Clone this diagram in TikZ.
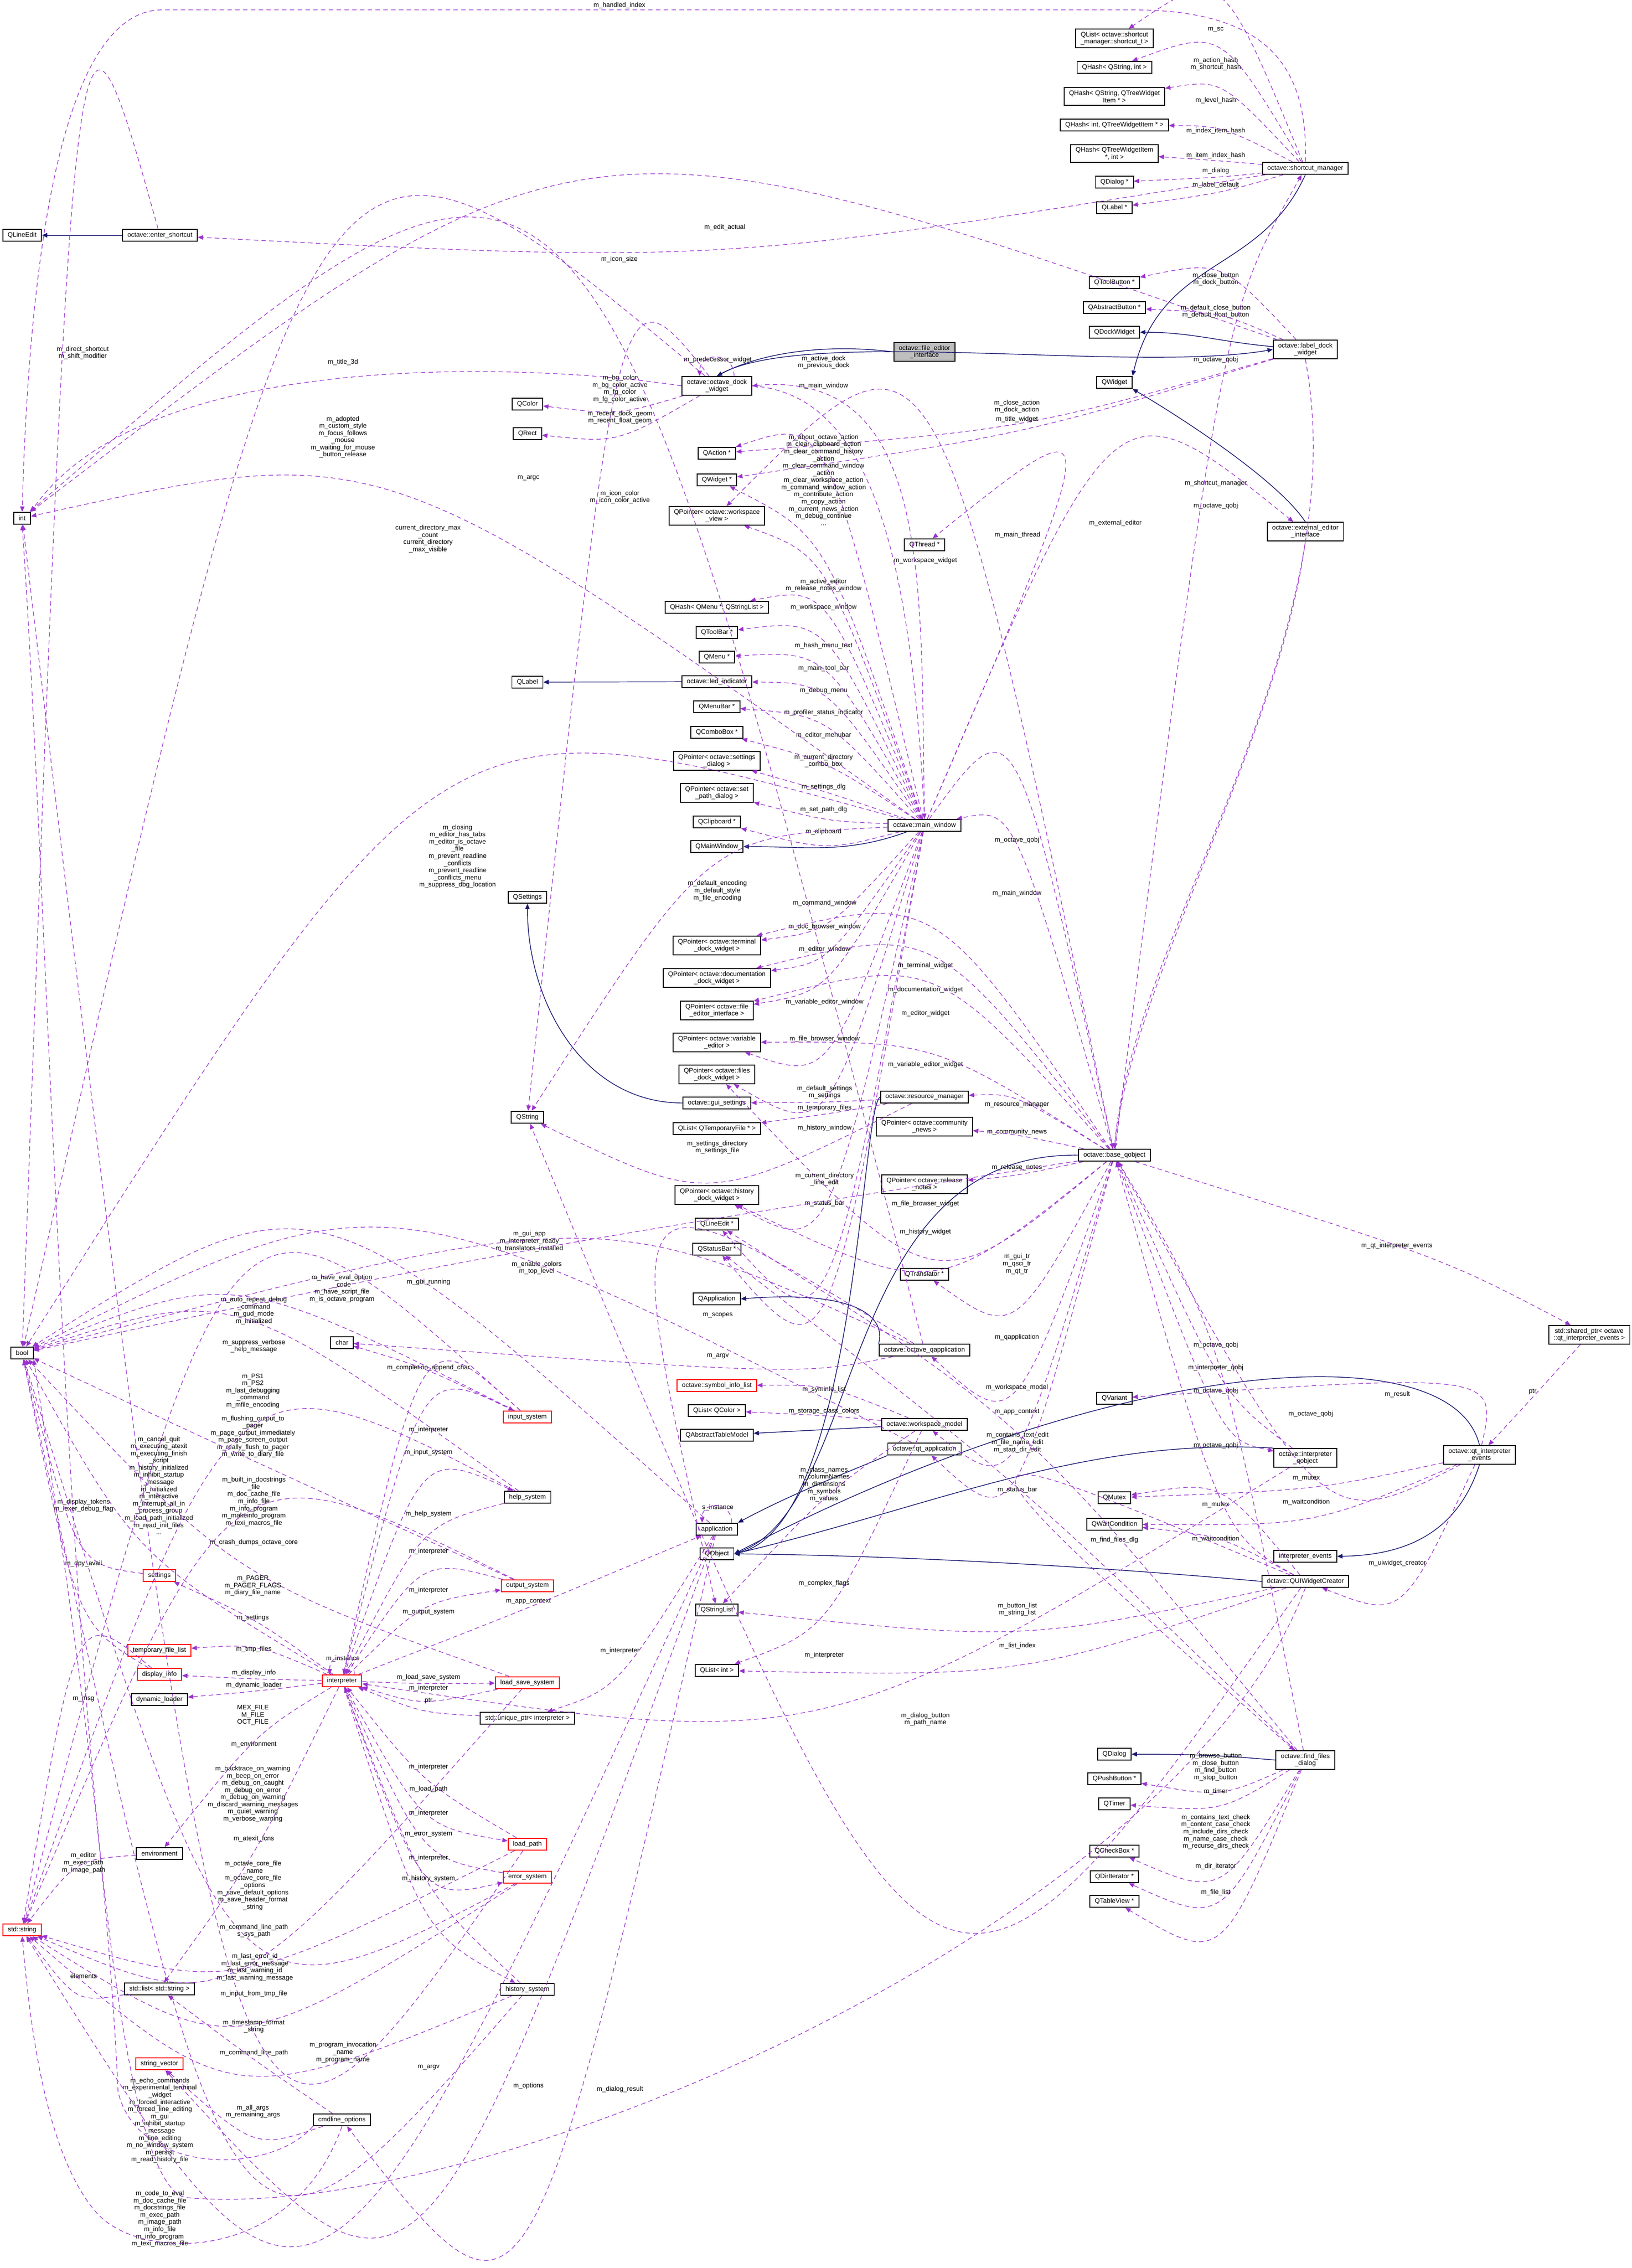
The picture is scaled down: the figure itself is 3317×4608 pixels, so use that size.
\documentclass[tikz,border=0pt]{standalone}
\usepackage{fontspec}
\setmainfont{Liberation Sans}
\usetikzlibrary{arrows.meta,calc}
\definecolor{dcol}{HTML}{9A32CD}
\definecolor{icol}{HTML}{191970}
\newcommand\fsz{\fontsize{3.2pt}{3.5pt}\selectfont}
\newcounter{lc}
\newcommand\dl[5][]{\stepcounter{lc}%
 \node[lbl] (L\thelc) at (#4) {#5};%
 \path ($(L\thelc.south)+(0,4)$) coordinate (V\thelc);%
 \draw[dep,#1] (#2) .. controls ($(#2)!0.5!(#3)!2!(V\thelc)$) .. (#3);}
\tikzset{
 cls/.style={draw=black,line width=0.45pt,fill=white,inner xsep=2.4pt,inner ysep=1.3pt,minimum height=5.9pt,align=center,font=\fsz},
 redc/.style={cls,draw=red},
 lbl/.style={inner sep=0pt,align=center,font=\fsz},
 dep/.style={draw=dcol,line width=0.3pt,dash pattern=on 2.2pt off 1.6pt,-{Triangle[length=2.6pt,width=2.2pt]}},
 inh/.style={draw=icol,line width=0.35pt,-{Triangle[length=2.6pt,width=2.2pt]}},
}
\begin{document}
\begin{tikzpicture}[x=0.24pt,y=-0.24pt]
\useasboundingbox (0,0) rectangle (3317,4608);
% ---------- nodes ----------
\node[cls] (QLineEdit) at (45,478) {QLineEdit};
\node[cls] (enter) at (325,478) {octave::enter\_shortcut};
\node[cls] (int) at (45,1053) {int};
\node[cls] (bool) at (45,2749) {bool};
\node[redc] (stdstring) at (45,3921) {std::string};
\node[redc] (settings) at (324,3201) {settings};
\node[redc] (tmpfl) at (324,3353) {temporary\_file\_list};
\node[redc] (dispinfo) at (324,3402) {display\_info};
\node[cls] (dynload) at (324,3453) {dynamic\_loader};
\node[cls] (environment) at (324,3766) {environment};
\node[cls] (stdlist) at (324,4041) {std::list< std::string >};
\node[redc] (strvec) at (324,4193) {string\_vector};
\node[cls] (cmdline) at (695,4307) {cmdline\_options};
\node[redc] (interp) at (695,3415) {interpreter};
\node[cls] (charn) at (695,2728) {char};
\node[redc] (inputsys) at (1072,2879) {input\_system};
\node[cls] (helpsys) at (1072,3042) {help\_system};
\node[redc] (outputsys) at (1072,3222) {output\_system};
\node[redc] (lss) at (1072,3419) {load\_save\_system};
\node[cls] (uniq) at (1072,3491) {std::unique\_ptr< interpreter >};
\node[redc] (loadpath) at (1072,3747) {load\_path};
\node[redc] (errsys) at (1072,3814) {error\_system};
\node[cls] (histsys) at (1072,4042) {history\_system};
\node[cls] (QColor) at (1072,821) {QColor};
\node[cls] (QRect) at (1072,881) {QRect};
\node[cls] (QLabel) at (1072,1386) {QLabel};
\node[cls] (QSettings) at (1072,1823) {QSettings};
\node[cls] (QString) at (1072,2270) {QString};
% column 1457
\node[cls] (odw) at (1457,784) {octave::octave\_dock\\\_widget};
\node[cls] (QActionp) at (1457,921) {QAction *};
\node[cls] (QWidgetp) at (1457,975) {QWidget *};
\node[cls] (wsview) at (1457,1048) {QPointer< octave::workspace\\\_view >};
\node[cls] (qhmenu) at (1457,1234) {QHash< QMenu *, QStringList >};
\node[cls] (QToolBarp) at (1457,1285) {QToolBar *};
\node[cls] (QMenup) at (1457,1335) {QMenu *};
\node[cls] (led) at (1457,1385) {octave::led\_indicator};
\node[cls] (QMenuBarp) at (1457,1436) {QMenuBar *};
\node[cls] (QComboBoxp) at (1457,1488) {QComboBox *};
\node[cls] (setdlg) at (1457,1546) {QPointer< octave::settings\\\_dialog >};
\node[cls] (setpath) at (1457,1611) {QPointer< octave::set\\\_path\_dialog >};
\node[cls] (QClipboardp) at (1457,1670) {QClipboard *};
\node[cls] (QMainWindow) at (1457,1720) {QMainWindow};
\node[cls] (term) at (1457,1921) {QPointer< octave::terminal\\\_dock\_widget >};
\node[cls] (docw) at (1457,1987) {QPointer< octave::documentation\\\_dock\_widget >};
\node[cls] (fei) at (1457,2053) {QPointer< octave::file\\\_editor\_interface >};
\node[cls] (vared) at (1457,2118) {QPointer< octave::variable\\\_editor >};
\node[cls] (filesdock) at (1457,2183) {QPointer< octave::files\\\_dock\_widget >};
\node[cls] (guiset) at (1457,2241) {octave::gui\_settings};
\node[cls] (qltmp) at (1457,2293) {QList< QTemporaryFile * >};
\node[cls] (histdock) at (1457,2428) {QPointer< octave::history\\\_dock\_widget >};
\node[cls] (QLineEditp) at (1457,2487) {QLineEdit *};
\node[cls] (QStatusBarp) at (1457,2538) {QStatusBar *};
\node[cls] (QApplication) at (1457,2639) {QApplication};
\node[redc] (syminfo) at (1457,2815) {octave::symbol\_info\_list};
\node[cls] (qlcolor) at (1457,2866) {QList< QColor >};
\node[cls] (QATM) at (1457,2916) {QAbstractTableModel};
\node[cls] (application) at (1457,3107) {application};
\node[cls] (QObject) at (1457,3157) {QObject};
\node[cls] (QStringList) at (1457,3271) {QStringList};
\node[cls] (QListInt) at (1457,3394) {QList< int >};
% column 1879
\node[cls,fill=black!25] (fed) at (1879,715) {octave::file\_editor\\\_interface};
\node[cls] (QThreadp) at (1879,1107) {QThread *};
\node[cls] (mw) at (1879,1677) {octave::main\_window};
\node[cls] (rm) at (1879,2229) {octave::resource\_manager};
\node[cls] (commnews) at (1879,2289) {QPointer< octave::community\\\_news >};
\node[cls] (relnotes) at (1879,2406) {QPointer< octave::release\\\_notes >};
\node[cls] (QTranslatorp) at (1879,2589) {QTranslator *};
\node[cls] (oqapp) at (1879,2743) {octave::octave\_qapplication};
\node[cls] (wsm) at (1879,2894) {octave::workspace\_model};
\node[cls] (qtapp) at (1879,2944) {octave::qt\_application};
% column 2265
\node[cls] (qlsc) at (2265,78) {QList< octave::shortcut\\\_manager::shortcut\_t >};
\node[cls] (qhsi) at (2265,137) {QHash< QString, int >};
\node[cls] (qhst) at (2265,196) {QHash< QString, QTreeWidget\\Item * >};
\node[cls] (qhit) at (2265,254) {QHash< int, QTreeWidgetItem * >};
\node[cls] (qhti) at (2265,312) {QHash< QTreeWidgetItem\\*, int >};
\node[cls] (QDialogp) at (2265,370) {QDialog *};
\node[cls] (QLabelp) at (2265,422) {QLabel *};
\node[cls] (QToolButtonp) at (2265,574) {QToolButton *};
\node[cls] (QAbstractButtonp) at (2265,625) {QAbstractButton *};
\node[cls] (QDockWidget) at (2265,675) {QDockWidget};
\node[cls] (QWidget) at (2265,777) {QWidget};
\node[cls] (bq) at (2265,2347) {octave::base\_qobject};
\node[cls] (QVariant) at (2265,2841) {QVariant};
\node[cls] (QMutex) at (2265,3043) {QMutex};
\node[cls] (QWaitCondition) at (2265,3097) {QWaitCondition};
\node[cls] (QDialog) at (2265,3564) {QDialog};
\node[cls] (QPushButtonp) at (2265,3614) {QPushButton *};
\node[cls] (QTimer) at (2265,3665) {QTimer};
\node[cls] (QCheckBoxp) at (2265,3761) {QCheckBox *};
\node[cls] (QDirIteratorp) at (2265,3813) {QDirIterator *};
\node[cls] (QTableViewp) at (2265,3863) {QTableView *};
% column 2653
\node[cls] (sm) at (2653,342) {octave::shortcut\_manager};
\node[cls] (ldw) at (2653,710) {octave::label\_dock\\\_widget};
\node[cls] (eei) at (2653,1080) {octave::external\_editor\\\_interface};
\node[cls] (iqobj) at (2653,2962) {octave::interpreter\\\_qobject};
\node[cls] (ievents) at (2653,3162) {interpreter\_events};
\node[cls] (quiwc) at (2653,3213) {octave::QUIWidgetCreator};
\node[cls] (ffd) at (2653,3576) {octave::find\_files\\\_dialog};
\node[cls] (qtie) at (3007,2956) {octave::qt\_interpreter\\\_events};
\node[cls] (shptr) at (3230,2712) {std::shared\_ptr< octave\\::qt\_interpreter\_events >};
% ---------- inheritance ----------
\draw[inh] (enter) -- (QLineEdit);
\draw[inh] (mw) to[out=200,in=0] (QMainWindow);
\draw[inh] (led) -- (QLabel);
\draw[inh] (guiset.west) to[out=180,in=-90] (QSettings.south);
\draw[inh] (sm.south) .. controls (2560,560) and (2360,520) .. (QWidget.north east);
\draw[inh] (eei.north) .. controls (2600,980) and (2420,860) .. (QWidget.south east);
\draw[inh] (ldw) to[out=175,in=0] (QDockWidget);
\draw[inh] (odw.north) .. controls (1620,660) and (2300,760) .. (ldw.west);
\draw[inh] (fed.west) .. controls (1700,700) and (1560,710) .. (odw.north);
\draw[inh] (oqapp.north west) .. controls (1800,2680) and (1750,2620) .. (QApplication.east);
\draw[inh] (wsm) -- (QATM);
\draw[inh] (qtapp.south west) .. controls (1700,3000) and (1600,3040) .. (application.north east);
\draw[inh] (bq.west) .. controls (1700,2340) and (1760,3060) .. (QObject.east);
\draw[inh] (rm.west) .. controls (1750,2250) and (1740,3100) .. (QObject.east);
\draw[inh] (iqobj.north west) .. controls (2200,2920) and (1900,3060) .. (QObject.east);
\draw[inh] (qtie.north) .. controls (2950,2700) and (2250,2760) .. (QObject.east);
\draw[inh] (quiwc.west) .. controls (2200,3180) and (1800,3160) .. (QObject.east);
\draw[inh] (qtie.south) .. controls (2960,3120) and (2850,3160) .. (ievents.east);
\draw[inh] (ffd.west) to[out=175,in=0] (QDialog.east);
% ---------- shortcut manager cluster ----------
\dl{sm}{qlsc}{2471,60}{m\_sc}
\dl{sm}{qhsi}{2471,130}{m\_action\_hash\\m\_shortcut\_hash}
\dl{sm}{qhst}{2471,204}{m\_level\_hash}
\dl{sm}{qhit}{2471,266}{m\_index\_item\_hash}
\dl{sm}{qhti}{2471,316}{m\_item\_index\_hash}
\dl{sm}{QDialogp}{2471,347}{m\_dialog}
\dl{sm}{QLabelp}{2471,376}{m\_label\_default}
\node[lbl] (Lhi) at (1259,11) {m\_handled\_index};
\draw[dep] (sm.north) .. controls (2660,120) and (2560,20) .. (2300,20) -- (330,20) .. controls (130,20) and (60,500) .. (int.north);
\dl{sm}{enter}{1473,462}{m\_edit\_actual}
\dl{ldw}{int}{1259,527}{m\_icon\_size}
\dl{ldw}{QToolButtonp}{2471,567}{m\_close\_button\\m\_dock\_button}
\dl{ldw}{QAbstractButtonp}{2471,633}{m\_default\_close\_button\\m\_default\_float\_button}
\node[lbl] (Lldq) at (2471,731) {m\_octave\_qobj};
\draw[dep] (ldw.south) .. controls (2760,1300) and (2300,1900) .. (bq.north);
\dl{bq}{sm}{2471,982}{m\_shortcut\_manager}
\node[lbl] (Leeq) at (2471,1028) {m\_octave\_qobj};
\draw[dep] (eei.south) .. controls (2600,1500) and (2300,2000) .. (bq.north);
\dl{ldw}{QActionp}{2067,826}{m\_close\_action\\m\_dock\_action}
\dl{ldw}{QWidgetp}{2067,852}{m\_title\_widget}
\dl{mw}{eei}{2267,1063}{m\_external\_editor}
\dl{mw}{QThreadp}{2068,1087}{m\_main\_thread}
\dl{mw}{int}{870,1095}{current\_directory\_max\\\_count\\current\_directory\\\_max\_visible}
\dl{bq}{wsview}{1881,1139}{m\_workspace\_widget}
% ---------- dock widget ----------
\node[lbl] (Lpred) at (1459,731) {m\_predecessor\_widget};
\draw[dep] ($(odw.north)+(35,0)$) .. controls +(0,-50) and +(0,-50) .. ($(odw.north)+(-35,0)$);
\node[lbl] (Lact) at (1674,736) {m\_active\_dock\\m\_previous\_dock};
\draw[dep] (mw.north) .. controls (1870,1200) and (1900,750) .. (odw.east);
\node[lbl] (Lmwo) at (1674,784) {m\_main\_window};
\draw[dep] (odw.east) .. controls (1760,800) and (1850,1100) .. (mw.north);
\node[lbl] (Lt3d) at (697,736) {m\_title\_3d};
\draw[dep] (odw.west) .. controls (1100,740) and (300,700) .. (int.north east);
\dl{odw}{QColor}{1260,790}{m\_bg\_color\\m\_bg\_color\_active\\m\_fg\_color\\m\_fg\_color\_active}
\dl{odw}{QRect}{1260,848}{m\_recent\_dock\_geom\\m\_recent\_float\_geom}
\dl{odw}{bool}{697,888}{m\_adopted\\m\_custom\_style\\m\_focus\_follows\\\_mouse\\m\_waiting\_for\_mouse\\\_button\_release}
\dl{odw}{QString}{1260,1010}{m\_icon\_color\\m\_icon\_color\_active}
\dl{oqapp}{int}{1074,971}{m\_argc}
% ---------- main window ----------
\dl{mw}{QActionp}{1674,975}{m\_about\_octave\_action\\m\_clear\_clipboard\_action\\m\_clear\_command\_history\\\_action\\m\_clear\_command\_window\\\_action\\m\_clear\_workspace\_action\\m\_command\_window\_action\\m\_contribute\_action\\m\_copy\_action\\m\_current\_news\_action\\m\_debug\_continue\\...}
\dl{mw}{QWidgetp}{1674,1189}{m\_active\_editor\\m\_release\_notes\_window}
\dl{mw}{wsview}{1674,1234}{m\_workspace\_window}
\dl{mw}{qhmenu}{1674,1312}{m\_hash\_menu\_text}
\dl{mw}{QToolBarp}{1674,1358}{m\_main\_tool\_bar}
\dl{mw}{QMenup}{1674,1403}{m\_debug\_menu}
\dl{mw}{led}{1674,1448}{m\_profiler\_status\_indicator}
\dl{mw}{QMenuBarp}{1674,1494}{m\_editor\_menubar}
\dl{mw}{QComboBoxp}{1674,1546}{m\_current\_directory\\\_combo\_box}
\dl{mw}{setdlg}{1674,1599}{m\_settings\_dlg}
\dl{mw}{setpath}{1674,1645}{m\_set\_path\_dlg}
\dl{mw}{QClipboardp}{1674,1690}{m\_clipboard}
\dl{mw}{bool}{930,1740}{m\_closing\\m\_editor\_has\_tabs\\m\_editor\_is\_octave\\\_file\\m\_prevent\_readline\\\_conflicts\\m\_prevent\_readline\\\_conflicts\_menu\\m\_suppress\_dbg\_location}
\dl{mw}{QString}{1458,1810}{m\_default\_encoding\\m\_default\_style\\m\_file\_encoding}
\dl{mw}{term}{1676,1835}{m\_command\_window}
\dl{mw}{docw}{1676,1883}{m\_doc\_browser\_window}
\dl{mw}{fei}{1676,1929}{m\_editor\_window}
\dl{mw}{vared}{1676,2036}{m\_variable\_editor\_window}
\dl{mw}{filesdock}{1676,2111}{m\_file\_browser\_window}
\dl{mw}{histdock}{1676,2292}{m\_history\_window}
\dl{mw}{QLineEditp}{1676,2396}{m\_current\_directory\\\_line\_edit}
\dl{mw}{QStatusBarp}{1676,2445}{m\_status\_bar}
\dl{mw}{bq}{2067,1707}{m\_octave\_qobj}
\dl{bq}{mw}{2067,1815}{m\_main\_window}
% ---------- resource manager / base_qobject ----------
\dl{rm}{guiset}{1676,2219}{m\_default\_settings\\m\_settings}
\dl{rm}{qltmp}{1676,2251}{m\_temporary\_files}
\dl{rm}{QString}{1458,2331}{m\_settings\_directory\\m\_settings\_file}
\dl{bq}{rm}{2067,2245}{m\_resource\_manager}
\dl{bq}{commnews}{2067,2300}{m\_community\_news}
\dl{bq}{relnotes}{2067,2372}{m\_release\_notes}
\dl{bq}{term}{1881,1962}{m\_terminal\_widget}
\dl{bq}{docw}{1881,2011}{m\_documentation\_widget}
\dl{bq}{fei}{1881,2059}{m\_editor\_widget}
\dl{bq}{vared}{1881,2163}{m\_variable\_editor\_widget}
\dl{bq}{filesdock}{1881,2446}{m\_file\_browser\_widget}
\dl{bq}{histdock}{1881,2503}{m\_history\_widget}
\dl{bq}{QTranslatorp}{2067,2568}{m\_gui\_tr\\m\_qsci\_tr\\m\_qt\_tr}
\dl{bq}{oqapp}{2067,2717}{m\_qapplication}
\dl{bq}{wsm}{2067,2819}{m\_workspace\_model}
\dl{bq}{qtapp}{2067,2869}{m\_app\_context}
\dl{bq}{shptr}{2839,2531}{m\_qt\_interpreter\_events}
\dl{shptr}{qtie}{3115,2828}{ptr}
\dl{bq}{bool}{1076,2522}{m\_gui\_app\\m\_interpreter\_ready\\m\_translators\_installed}
\dl{oqapp}{bool}{1091,2576}{m\_enable\_colors\\m\_top\_level}
\dl{application}{bool}{695,2618}{m\_have\_eval\_option\\\_code\\m\_have\_script\_file\\m\_is\_octave\_program}
\dl{qtapp}{bool}{871,2605}{m\_gui\_running}
\dl{oqapp}{charn}{1459,2755}{m\_argv}
\dl{oqapp}{QStringList}{1459,2672}{m\_scopes}
\dl{wsm}{syminfo}{1675,2823}{m\_syminfo\_list}
\dl{wsm}{qlcolor}{1675,2867}{m\_storage\_class\_colors}
\dl{wsm}{QStringList}{1675,3016}{m\_class\_names\\m\_columnNames\\m\_dimensions\\m\_symbols\\m\_values}
\dl{wsm}{QListInt}{1675,3217}{m\_complex\_flags}
\node[lbl] (Lsinst) at (1459,3063) {s\_instance};
\draw[dep] ($(application.north)+(30,0)$) .. controls +(0,-45) and +(0,-45) .. ($(application.north)+(-30,0)$);
% ---------- qobject cluster ----------
\dl{iqobj}{bq}{2471,2733}{m\_octave\_qobj}
\dl{bq}{iqobj}{2471,2779}{m\_interpreter\_qobj}
\dl{ffd}{bq}{2471,2826}{m\_octave\_qobj}
\dl{qtie}{bq}{2664,2873}{m\_octave\_qobj}
\dl{quiwc}{bq}{2471,2937}{m\_octave\_qobj}
\dl{qtie}{QVariant}{2840,2833}{m\_result}
\dl{qtie}{QMutex}{2655,3003}{m\_mutex}
\dl{qtie}{QWaitCondition}{2655,3052}{m\_waitcondition}
\dl{qtie}{quiwc}{2840,3176}{m\_uiwidget\_creator}
\dl{quiwc}{QMutex}{2471,3057}{m\_mutex}
\dl{quiwc}{QWaitCondition}{2471,3127}{m\_waitcondition}
\dl{quiwc}{ffd}{2265,3129}{m\_find\_files\_dlg}
\dl{quiwc}{QStringList}{2068,3270}{m\_button\_list\\m\_string\_list}
\dl{quiwc}{QListInt}{2068,3344}{m\_list\_index}
\dl{quiwc}{QString}{1881,3493}{m\_dialog\_button\\m\_path\_name}
\node[lbl] (Ldres) at (1260,4245) {m\_dialog\_result};
\draw[dep] (quiwc.south) .. controls (2400,3900) and (1000,4520) .. (380,4465) .. controls (150,4440) and (110,2000) .. (int.south);
\dl{ffd}{QPushButtonp}{2471,3590}{m\_browse\_button\\m\_close\_button\\m\_find\_button\\m\_stop\_button}
\dl{ffd}{QTimer}{2471,3640}{m\_timer}
\dl{ffd}{QCheckBoxp}{2471,3722}{m\_contains\_text\_check\\m\_content\_case\_check\\m\_include\_dirs\_check\\m\_name\_case\_check\\m\_recurse\_dirs\_check}
\dl{ffd}{QDirIteratorp}{2471,3792}{m\_dir\_iterator}
\dl{ffd}{QTableViewp}{2471,3845}{m\_file\_list}
\dl{ffd}{QLineEditp}{2068,2931}{m\_contains\_text\_edit\\m\_file\_name\_edit\\m\_start\_dir\_edit}
\dl{ffd}{QStatusBarp}{2068,3027}{m\_status\_bar}
\dl{iqobj}{interp}{1675,3363}{m\_interpreter}
% ---------- interpreter cluster ----------
\dl{inputsys}{bool}{516,2663}{m\_auto\_repeat\_debug\\\_command\\m\_gud\_mode\\m\_initialized}
\dl{helpsys}{bool}{516,2735}{m\_suppress\_verbose\\\_help\_message}
\dl{inputsys}{charn}{871,2779}{m\_completion\_append\_char}
\dl{inputsys}{stdstring}{514,2826}{m\_PS1\\m\_PS2\\m\_last\_debugging\\\_command\\m\_mfile\_encoding}
\dl{outputsys}{bool}{514,2919}{m\_flushing\_output\_to\\\_pager\\m\_page\_output\_immediately\\m\_page\_screen\_output\\m\_really\_flush\_to\_pager\\m\_write\_to\_diary\_file}
\dl{interp}{bool}{323,3018}{m\_cancel\_quit\\m\_executing\_atexit\\m\_executing\_finish\\\_script\\m\_history\_initialized\\m\_inhibit\_startup\\\_message\\m\_initialized\\m\_interactive\\m\_interrupt\_all\_in\\\_process\_group\\m\_load\_path\_initialized\\m\_read\_init\_files\\...}
\dl{settings}{bool}{170,3059}{m\_display\_tokens\\m\_lexer\_debug\_flag}
\dl{helpsys}{stdstring}{516,3051}{m\_built\_in\_docstrings\\\_file\\m\_doc\_cache\_file\\m\_info\_file\\m\_info\_program\\m\_makeinfo\_program\\m\_texi\_macros\_file}
\dl{lss}{bool}{516,3134}{m\_crash\_dumps\_octave\_core}
\dl{dispinfo}{bool}{170,3177}{m\_dpy\_avail}
\dl{outputsys}{stdstring}{514,3222}{m\_PAGER\\m\_PAGER\_FLAGS\\m\_diary\_file\_name}
\dl{interp}{settings}{514,3287}{m\_settings}
\dl{interp}{tmpfl}{516,3351}{m\_tmp\_files}
\node[lbl] (Linst) at (697,3370) {m\_instance};
\draw[dep] ($(interp.north)+(25,0)$) .. controls +(0,-45) and +(0,-45) .. ($(interp.north)+(-25,0)$);
\dl{interp}{dispinfo}{516,3399}{m\_display\_info}
\dl{interp}{dynload}{516,3424}{m\_dynamic\_loader}
\dl{dispinfo}{stdstring}{170,3452}{m\_msg}
\dl{loadpath}{int}{514,3485}{MEX\_FILE\\M\_FILE\\OCT\_FILE}
\dl{interp}{environment}{516,3544}{m\_environment}
\dl{errsys}{bool}{514,3645}{m\_backtrace\_on\_warning\\m\_beep\_on\_error\\m\_debug\_on\_caught\\m\_debug\_on\_error\\m\_debug\_on\_warning\\m\_discard\_warning\_messages\\m\_quiet\_warning\\m\_verbose\_warning}
\dl{interp}{stdlist}{516,3736}{m\_atexit\_fcns}
\dl{lss}{stdstring}{514,3831}{m\_octave\_core\_file\\\_name\\m\_octave\_core\_file\\\_options\\m\_save\_default\_options\\m\_save\_header\_format\\\_string}
\dl{loadpath}{stdstring}{516,3923}{m\_command\_line\_path\\s\_sys\_path}
\dl{errsys}{stdstring}{518,3997}{m\_last\_error\_id\\m\_last\_error\_message\\m\_last\_warning\_id\\m\_last\_warning\_message}
\dl{stdlist}{stdstring}{170,4015}{elements}
\dl{histsys}{bool}{516,4051}{m\_input\_from\_tmp\_file}
\dl{histsys}{stdstring}{516,4117}{m\_timestamp\_format\\\_string}
\dl{cmdline}{stdlist}{516,4171}{m\_command\_line\_path}
\dl{application}{stdstring}{697,4170}{m\_program\_invocation\\\_name\\m\_program\_name}
\dl{application}{strvec}{871,4200}{m\_argv}
\dl{application}{cmdline}{1074,4238}{m\_options}
\dl{cmdline}{strvec}{514,4290}{m\_all\_args\\m\_remaining\_args}
\node[lbl] (Lcbool) at (325,4314) {m\_echo\_commands\\m\_experimental\_terminal\\\_widget\\m\_forced\_interactive\\m\_forced\_line\_editing\\m\_gui\\m\_inhibit\_startup\\\_message\\m\_line\_editing\\m\_no\_window\_system\\m\_persist\\m\_read\_history\_file\\...};
\draw[dep] (cmdline.south west) .. controls (550,4420) and (280,4420) .. (240,4250) .. controls (215,3700) and (120,3100) .. (bool.south east);
\node[lbl] (Lcstr) at (325,4508) {m\_code\_to\_eval\\m\_doc\_cache\_file\\m\_docstrings\_file\\m\_exec\_path\\m\_image\_path\\m\_info\_file\\m\_info\_program\\m\_texi\_macros\_file};
\draw[dep] (cmdline.south) .. controls (600,4590) and (300,4600) .. (200,4500) .. controls (90,4380) and (60,4100) .. (stdstring.south);
\dl{environment}{stdstring}{170,3785}{m\_editor\\m\_exec\_path\\m\_image\_path}
\dl{enter}{bool}{168,717}{m\_direct\_shortcut\\m\_shift\_modifier}
\dl{inputsys}{interp}{871,2905}{m\_interpreter}
\dl{interp}{inputsys}{871,2951}{m\_input\_system}
\dl{interp}{helpsys}{871,3076}{m\_help\_system}
\dl{helpsys}{interp}{871,3152}{m\_interpreter}
\dl{outputsys}{interp}{871,3231}{m\_interpreter}
\dl{interp}{application}{1074,3254}{m\_app\_context}
\dl{interp}{outputsys}{871,3276}{m\_output\_system}
\dl{interp}{lss}{871,3408}{m\_load\_save\_system}
\dl{lss}{interp}{871,3430}{m\_interpreter}
\dl{uniq}{interp}{871,3456}{ptr}
\dl{application}{uniq}{1260,3354}{m\_interpreter}
\dl{loadpath}{interp}{871,3590}{m\_interpreter}
\dl{interp}{loadpath}{871,3635}{m\_load\_path}
\dl{errsys}{interp}{871,3684}{m\_interpreter}
\dl{interp}{errsys}{871,3727}{m\_error\_system}
\dl{histsys}{interp}{871,3775}{m\_interpreter}
\dl{interp}{histsys}{871,3817}{m\_history\_system}
\end{tikzpicture}
\end{document}
